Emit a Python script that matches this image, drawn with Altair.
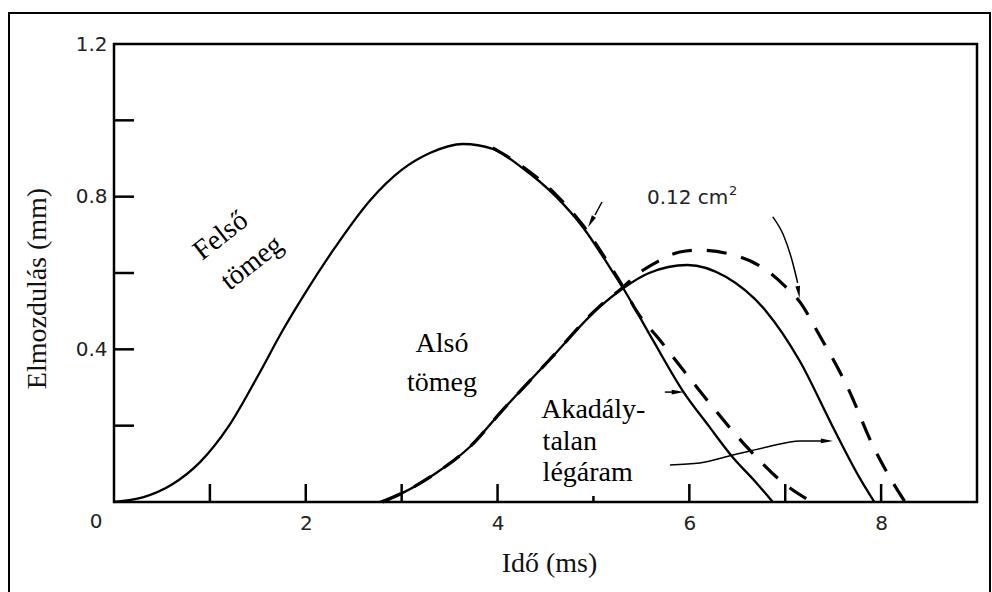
import altair as alt
import pandas as pd

W, H = 863, 458

# Displacement curves: time (ms) and displacement (mm)
upper_t = [0.0, 0.3, 0.6, 0.9, 1.2, 1.5, 1.76, 2.0, 2.3, 2.67, 3.0, 3.3, 3.64, 3.95, 4.26, 4.61, 4.89, 5.17, 5.31, 5.62, 5.94, 6.2, 6.45, 6.7, 6.87]
upper_d = [0.0, 0.012, 0.045, 0.105, 0.2, 0.33, 0.45, 0.55, 0.665, 0.79, 0.87, 0.915, 0.938, 0.925, 0.875, 0.80, 0.72, 0.615, 0.56, 0.424, 0.288, 0.2, 0.118, 0.05, 0.0]

upper_012_t = [3.95, 4.26, 4.61, 4.89, 5.17, 5.31, 5.45, 5.69, 6.08, 6.6, 6.98, 7.28]
upper_012_d = [0.928, 0.879, 0.805, 0.725, 0.62, 0.563, 0.50, 0.425, 0.30, 0.144, 0.05, 0.0]

lower_t = [2.77, 3.01, 3.36, 3.71, 4.05, 4.54, 5.06, 5.31, 5.58, 5.98, 6.38, 6.8, 7.15, 7.49, 7.77, 7.93]
lower_d = [0.0, 0.024, 0.076, 0.144, 0.24, 0.372, 0.51, 0.56, 0.60, 0.621, 0.59, 0.50, 0.37, 0.2, 0.066, 0.0]

lower_012_t = [2.8, 3.01, 3.36, 3.71, 4.05, 4.54, 5.06, 5.31, 5.45, 5.67, 5.9, 6.1, 6.45, 6.8, 7.0, 7.15, 7.35, 7.67, 7.9, 8.12, 8.25]
lower_012_d = [0.0, 0.024, 0.076, 0.144, 0.24, 0.372, 0.512, 0.563, 0.595, 0.63, 0.655, 0.66, 0.648, 0.608, 0.565, 0.525, 0.44, 0.29, 0.155, 0.052, 0.0]

# Axis tick positions
x_ticks = [1, 2, 3, 4, 6, 7, 8]
x_ticks_short = [5]
y_ticks = [0.2, 0.4, 0.6, 0.8, 1.0]
x_labels = [2, 4, 6, 8]
y_labels = [0.4, 0.8, 1.2]

# Annotation arrows (time, displacement)
arrow_upper_t = [5.089, 5.016]
arrow_upper_d = [0.786, 0.752]
arrow_area_t = [6.87, 6.98, 7.07, 7.13]
arrow_area_d = [0.747, 0.70, 0.634, 0.574]
arrow_short_t = [5.745, 5.87]
arrow_short_d = [0.288, 0.288]
arrow_curve_t = [5.798, 6.11, 6.455, 6.81, 7.153, 7.383]
arrow_curve_d = [0.097, 0.102, 0.123, 0.144, 0.160, 0.160]

head_t = [4.974, 7.14, 5.88, 7.435]
head_d = [0.734, 0.55, 0.288, 0.160]
head_angle = [209, 171, 90, 90]

# Text labels
serif_text = ["Felső", "tömeg", "Alsó", "tömeg"]
serif_t = [1.115, 1.44, 3.42, 3.42]
serif_d = [0.697, 0.626, 0.414, 0.312]
serif_angle = [322, 322, 0, 0]

free_text = ["Akadály-", "talan", "légáram"]
free_t = [4.455, 4.47, 4.47]
free_d = [0.220, 0.136, 0.055]

area_text = ["0.12 cm", "2"]
area_t = [5.558, 6.413]
area_d = [0.796, 0.815]
area_size = [20, 13]


def frame(ts, ds, name):
    return pd.DataFrame({"t": ts, "d": ds, "curve": name, "i": list(range(len(ts)))})


solid = pd.concat([frame(upper_t, upper_d, "felso"), frame(lower_t, lower_d, "also")])
dashed = pd.concat([frame(upper_012_t, upper_012_d, "felso"), frame(lower_012_t, lower_012_d, "also")])
arrows = pd.concat([
    frame(arrow_upper_t, arrow_upper_d, "a1"),
    frame(arrow_area_t, arrow_area_d, "a2"),
    frame(arrow_short_t, arrow_short_d, "a3"),
    frame(arrow_curve_t, arrow_curve_d, "a4"),
])
heads = pd.DataFrame({"t": head_t, "d": head_d, "angle": head_angle})
serif_df = pd.DataFrame({"label": serif_text, "t": serif_t, "d": serif_d, "angle": serif_angle})
free_df = pd.DataFrame({"label": free_text, "t": free_t, "d": free_d})
area_df = pd.DataFrame({"label": area_text, "t": area_t, "d": area_d, "size": area_size})

xscale = alt.Scale(domain=[0, 9], nice=False, zero=False)
yscale = alt.Scale(domain=[0, 1.2], nice=False, zero=False)

X = alt.X(
    "t:Q", scale=xscale,
    axis=alt.Axis(
        values=x_labels, format="d", ticks=False, domain=False, grid=False,
        labelFont="DejaVu Sans", labelFontSize=20, labelColor="#222",
        labelBaseline="middle", labelPadding=21,
        title="Idő (ms)", titleFont="Liberation Serif", titleFontSize=28,
        titleFontWeight="normal", titleColor="#111", titleBaseline="middle",
        titleX=435, titleY=61, titleAlign="center",
    ),
)
Y = alt.Y(
    "d:Q", scale=yscale,
    axis=alt.Axis(
        values=y_labels, format=".1f", ticks=False, domain=False, grid=False,
        labelFont="DejaVu Sans", labelFontSize=20, labelColor="#222",
        labelPadding=7, labelAlign="right",
        title="Elmozdulás (mm)", titleFont="Liberation Serif", titleFontSize=28,
        titleFontWeight="normal", titleColor="#111", titleAngle=270,
        titleBaseline="middle", titleAlign="center", titleX=-77, titleY=244,
    ),
)

solid_layer = alt.Chart(solid).mark_line(
    color="black", strokeWidth=2.3, interpolate="monotone"
).encode(x=X, y=Y, detail="curve:N", order="i:Q")

dashed_layer = alt.Chart(dashed).mark_line(
    color="black", strokeWidth=3.2, strokeDash=[20, 15], interpolate="monotone"
).encode(x=X, y=Y, detail="curve:N", order="i:Q")

arrow_layer = alt.Chart(arrows).mark_line(
    color="black", strokeWidth=1.5, interpolate="monotone"
).encode(x=X, y=Y, detail="curve:N", order="i:Q")

head_layer = alt.Chart(heads).mark_point(
    shape="M0,-1L0.38,1L-0.38,1Z", filled=True, color="black", opacity=1, size=150
).encode(x=X, y=Y, angle=alt.Angle("angle:Q", scale=None))

tick_df = pd.DataFrame({"t": x_ticks})
tick_short_df = pd.DataFrame({"t": x_ticks_short})
ytick_df = pd.DataFrame({"d": y_ticks})

xtick_layer = alt.Chart(tick_df).mark_rule(color="black", strokeWidth=2.5).encode(
    x=X, y=alt.value(H), y2=alt.value(H - 18)
)
xtick_short_layer = alt.Chart(tick_short_df).mark_rule(color="black", strokeWidth=2.5).encode(
    x=X, y=alt.value(H), y2=alt.value(H - 6)
)
ytick_layer = alt.Chart(ytick_df).mark_rule(color="black", strokeWidth=2.5).encode(
    y=Y, x=alt.value(0), x2=alt.value(20)
)

origin_layer = alt.Chart(pd.DataFrame({"t": [0], "d": [0], "label": ["0"]})).mark_text(
    font="DejaVu Sans", fontSize=20, color="#222", dx=-18, dy=20
).encode(x=X, y=Y, text="label:N")

serif_layer = alt.Chart(serif_df).mark_text(
    font="Liberation Serif", fontSize=28, color="black", baseline="middle", align="center"
).encode(x=X, y=Y, text="label:N", angle=alt.Angle("angle:Q", scale=None))

free_layer = alt.Chart(free_df).mark_text(
    font="Liberation Serif", fontSize=28, color="black", baseline="alphabetic", align="left"
).encode(x=X, y=Y, text="label:N")

area_layer = alt.Chart(area_df).mark_text(
    font="DejaVu Sans", color="#222", baseline="middle", align="left"
).encode(x=X, y=Y, text="label:N", size=alt.Size("size:Q", scale=None))

border = alt.Chart(pd.DataFrame({"k": [0]})).mark_rect(
    filled=False, stroke="black", strokeWidth=2
).encode(x=alt.value(-105), x2=alt.value(876), y=alt.value(-31), y2=alt.value(570))

chart = alt.layer(
    border, solid_layer, dashed_layer, arrow_layer, head_layer,
    xtick_layer, xtick_short_layer, ytick_layer,
    origin_layer, serif_layer, free_layer, area_layer,
).properties(
    width=W, height=H,
    autosize=alt.AutoSizeParams(type="none"),
    padding={"left": 114, "top": 44, "right": 15, "bottom": 90},
    background="white",
).configure_view(stroke="black", strokeWidth=2.5)

chart.save("out.html", embed_options={"renderer": "svg", "actions": False})
